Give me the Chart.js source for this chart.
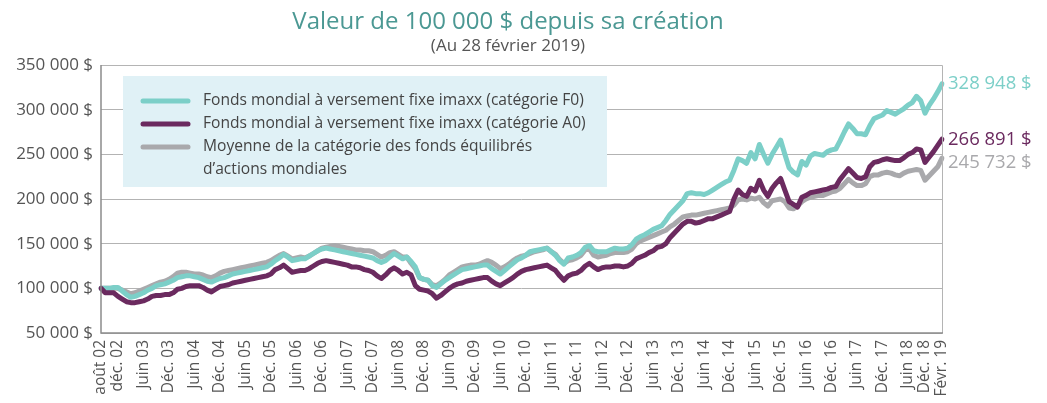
<!DOCTYPE html>
<html lang="fr">
<head>
<meta charset="utf-8">
<script src="https://cdn.jsdelivr.net/npm/chart.js@4.4.1/dist/chart.umd.min.js"></script>
<style>
  html, body { margin: 0; padding: 0; background: #fff; }
  #wrap { position: relative; width: 1047px; height: 403px; }
</style>
</head>
<body>
<div id="wrap"><canvas id="myChart"></canvas></div>
<script>
'use strict'

var title = "Valeur de 100 000 $ depuis sa création";
var subtitle = "(Au 28 février 2019)";

// valeurs en milliers de $, une par mois, d'août 2002 à février 2019
var fondsF0 = [
  100, 100, 100, 101, 101, 97, 93, 90, 91, 93, 95, 98,
  100, 103, 104, 105, 107, 109, 112, 113, 114, 114, 113, 112,
  110, 108, 107, 109, 111, 112, 114, 116, 117, 118, 119, 120,
  121, 122, 123, 124, 127, 131, 134, 138, 135, 131, 132, 133,
  133, 136, 139, 142, 144, 145, 144, 143, 142, 141, 140, 139,
  138, 137, 136, 135, 134, 131, 129, 131, 135, 139, 136, 133,
  135, 130, 124, 112, 110, 109, 103, 101, 105, 109, 112, 115,
  118, 121, 122, 123, 124, 125, 126, 126, 122, 119, 116, 120,
  124, 128, 132, 134, 137, 141, 142, 143, 144, 145, 141, 137,
  131, 127, 134, 135, 137, 140, 146, 148, 142, 141, 141, 141,
  143, 145, 144, 144, 145, 149, 155, 158, 160, 163, 166, 168,
  170, 176, 183, 188, 193, 198, 206, 207, 206, 206, 205, 207,
  210, 213, 216, 219, 221, 232, 245, 243, 240, 252, 245, 261,
  250, 240, 250, 258, 266, 250, 235, 230, 227, 242, 238, 248,
  251, 250, 249, 253, 255, 256, 265, 275, 284, 279, 273, 273,
  272, 282, 290, 292, 294, 299, 297, 295, 298, 301, 305, 308,
  315, 310, 296, 305, 312, 320, 328.948
];

var fondsA0 = [
  100, 95, 95, 95, 91, 88, 85, 84, 84, 85, 86, 88,
  91, 92, 92, 93, 93, 95, 99, 100, 102, 103, 103, 103,
  101, 98, 96, 99, 102, 103, 104, 106, 107, 108, 109, 110,
  111, 112, 113, 114, 116, 121, 123, 126, 122, 118, 119, 120,
  120, 122, 125, 128, 130, 131, 130, 129, 128, 127, 126, 124,
  124, 123, 121, 120, 118, 114, 111, 115, 120, 123, 120, 116,
  118, 115, 103, 99, 98, 97, 94, 89, 92, 96, 100, 103,
  105, 106, 108, 109, 110, 111, 112, 112, 108, 105, 103, 106,
  109, 112, 116, 119, 121, 122, 123, 124, 125, 126, 123, 120,
  114, 109, 114, 116, 117, 120, 125, 128, 124, 121, 123, 124,
  124, 125, 125, 124, 125, 128, 133, 135, 137, 140, 142, 146,
  147, 150, 157, 162, 167, 172, 175, 175, 173, 174, 176, 178,
  178, 180, 182, 184, 186, 200, 210, 205, 203, 212, 209, 221,
  210, 203, 212, 218, 223, 210, 197, 194, 191, 202, 204, 207,
  208, 209, 210, 211, 213, 214, 222, 228, 234, 229, 224, 223,
  225, 236, 241, 242, 244, 245, 244, 243, 243, 246, 250, 252,
  256, 255, 241, 247, 253, 260, 266.891
];

var moyenneCat = [
  100, 100, 100, 100, 100, 98, 96, 94, 95, 97, 99, 101,
  103, 105, 107, 108, 110, 113, 117, 118, 118, 117, 116, 116,
  115, 113, 112, 114, 117, 119, 120, 121, 122, 123, 124, 125,
  126, 127, 128, 129, 131, 134, 137, 139, 136, 133, 134, 135,
  134, 136, 139, 142, 145, 146, 147, 148, 147, 146, 145, 144,
  143, 143, 142, 142, 141, 138, 135, 137, 140, 141, 138, 135,
  135, 128, 122, 112, 110, 109, 104, 103, 106, 110, 115, 118,
  121, 124, 125, 126, 126, 127, 129, 131, 129, 126, 122, 124,
  127, 131, 134, 136, 137, 139, 141, 142, 143, 145, 141, 138,
  132, 128, 131, 132, 134, 137, 143, 144, 137, 135, 136, 137,
  139, 140, 140, 140, 141, 144, 150, 153, 155, 157, 159, 161,
  163, 165, 169, 172, 176, 180, 181, 182, 182, 183, 184, 185,
  186, 187, 188, 189, 190, 193, 199, 200, 199, 201, 200, 202,
  196, 192, 198, 199, 200, 197, 190, 189, 192, 197, 200, 202,
  203, 204, 204, 206, 208, 209, 212, 217, 222, 218, 215, 215,
  217, 225, 227, 227, 229, 230, 229, 227, 226, 229, 231, 232,
  233, 232, 221, 226, 231, 236, 245.732
];

var seriesNames = [
  ["Fonds mondial à versement fixe imaxx (catégorie F0)"],
  ["Fonds mondial à versement fixe imaxx (catégorie A0)"],
  ["Moyenne de la catégorie des fonds équilibrés", "d\u2019actions mondiales"]
];
var colors = ["#7ccfc8", "#6b2a5f", "#a9a9ac"];

// mois où une étiquette est posée (Déc. 18 est un peu décalée dans l'original)
var tickMonths = [
  "2002-08", "2002-12", "2003-06", "2003-12", "2004-06", "2004-12", "2005-06",
  "2005-12", "2006-06", "2006-12", "2007-06", "2007-12", "2008-06", "2008-12",
  "2009-06", "2009-12", "2010-06", "2010-12", "2011-06", "2011-12", "2012-06",
  "2012-12", "2013-06", "2013-12", "2014-06", "2014-12", "2015-06", "2015-12",
  "2016-06", "2016-12", "2017-06", "2017-12", "2018-06", "2018-10", "2019-02"
];
var tickLabels = [
  "août 02", "déc. 02", "Juin 03", "Déc. 03", "Juin 04", "Déc. 04", "Juin 05",
  "Déc. 05", "Juin 06", "Déc. 06", "Juin 07", "Déc. 07", "Juin 08", "Déc. 08",
  "Juin 09", "Déc. 09", "Juin 10", "Déc. 10", "Juin 11", "Déc. 11", "Juin 12",
  "Déc. 12", "Juin 13", "Déc. 13", "Juin 14", "Déc. 14", "Juin 15", "Déc. 15",
  "Juin 16", "Déc. 16", "Juin 17", "Déc. 17", "Juin 18", "Déc. 18", "Févr. 19"
];

// categories: un mois par point
var months = [];
for (var y = 2002, m = 8; y < 2019 || (y === 2019 && m <= 2); m++) {
  if (m > 12) { m = 1; y++; if (y === 2019 && m > 2) break; }
  months.push(y + "-" + (m < 10 ? "0" + m : m));
}

var FONT = "'Open Sans', sans-serif";

function dollars(n) {
  return String(n).replace(/\B(?=(\d{3})+(?!\d))/g, " ") + " $";
}

var overlay = {
  id: "overlay",
  afterDraw: function(chart) {
    var c = chart.ctx, a = chart.chartArea;
    c.save();

    // cadre
    c.lineWidth = 1;
    c.strokeStyle = "#b4b4b4";
    c.beginPath();
    c.moveTo(a.left, a.top + 0.5); c.lineTo(a.right + 0.5, a.top + 0.5); c.lineTo(a.right + 0.5, a.bottom);
    c.stroke();
    c.lineWidth = 1.5;
    c.strokeStyle = "#8c8c8c";
    c.beginPath();
    c.moveTo(a.left, a.top); c.lineTo(a.left, a.bottom); c.lineTo(a.right + 1, a.bottom);
    c.stroke();

    // titre
    c.textAlign = "center";
    c.textBaseline = "middle";
    c.fillStyle = "#4b9893";
    c.font = "24px " + FONT;
    c.fillText(title, 508, 22);
    c.fillStyle = "#555";
    c.font = "17px " + FONT;
    c.fillText(subtitle, 508, 46);

    // legende
    c.fillStyle = "#e0f1f6";
    c.fillRect(123, 76, 484, 111);
    var ly = [101, 124, 147];
    c.font = "15.6px " + FONT;
    c.textAlign = "left";
    for (var i = 0; i < seriesNames.length; i++) {
      c.strokeStyle = colors[i];
      c.lineWidth = 5;
      c.lineCap = "round";
      c.beginPath();
      c.moveTo(143, ly[i]); c.lineTo(188, ly[i]);
      c.stroke();
      c.fillStyle = "#444";
      for (var j = 0; j < seriesNames[i].length; j++) {
        c.fillText(seriesNames[i][j], 203, ly[i] + j * 23);
      }
    }

    // valeurs finales
    c.font = "18.5px " + FONT;
    var prev = -100;
    for (var k = 0; k < 3; k++) {
      var meta = chart.getDatasetMeta(k);
      var pt = meta.data[meta.data.length - 1];
      var yy = Math.max(pt.y, prev + 23);
      prev = yy;
      var val = chart.data.datasets[k].data[chart.data.datasets[k].data.length - 1];
      c.fillStyle = colors[k];
      c.fillText(dollars(Math.round(val * 1000)), a.right + 6, yy);
    }
    c.restore();
  }
};

var ctx = document.getElementById("myChart").getContext("2d");

var myChart = new Chart(ctx, {
  type: "line",
  data: {
    labels: months,
    datasets: [
      { label: seriesNames[0].join(" "), data: fondsF0, borderColor: colors[0], order: 1 },
      { label: seriesNames[1].join(" "), data: fondsA0, borderColor: colors[1], order: 0 },
      { label: seriesNames[2].join(" "), data: moyenneCat, borderColor: colors[2], order: 2 }
    ]
  },
  options: {
    responsive: true,
    maintainAspectRatio: false,
    animation: false,
    layout: { padding: { top: 65, right: 105, left: 0, bottom: 0 } },
    elements: {
      line: { borderWidth: 5, tension: 0, borderCapStyle: "round", borderJoinStyle: "round", fill: false },
      point: { radius: 0, hoverRadius: 0 }
    },
    plugins: {
      legend: { display: false },
      title: { display: false },
      tooltip: { enabled: false }
    },
    scales: {
      x: {
        grid: { display: false, drawTicks: false },
        border: { display: false },
        afterFit: function(s) { s.height = 70; },
        ticks: {
          autoSkip: false,
          minRotation: 90,
          maxRotation: 90,
          padding: 7,
          color: "#555",
          font: { family: FONT, size: 15.5 },
          callback: function(v) {
            var i = tickMonths.indexOf(this.getLabelForValue(v));
            return i < 0 ? "" : tickLabels[i];
          }
        }
      },
      y: {
        min: 50,
        max: 350,
        grid: { color: "#b3b3b3", lineWidth: 1, drawTicks: false },
        border: { display: false },
        afterFit: function(s) { s.width = 101; },
        ticks: {
          stepSize: 50,
          padding: 8,
          color: "#555",
          font: { family: FONT, size: 17 },
          callback: function(v) { return dollars(v * 1000); }
        }
      }
    }
  },
  plugins: [overlay]
});
</script>
</body>
</html>
